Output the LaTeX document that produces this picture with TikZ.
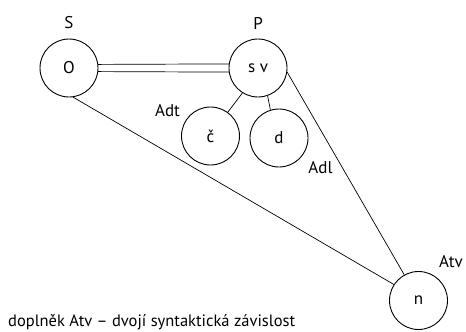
\documentclass[tikz,border=0pt]{standalone}
\usepackage{fontspec}
\setmainfont{PT Sans}
\begin{document}
\begin{tikzpicture}[x=1pt,y=-1pt,
  nd/.style={circle,draw,line width=0.9pt,minimum size=58pt,inner sep=0pt,font=\fontsize{17}{20}\selectfont},
  lbl/.style={inner sep=0pt,font=\fontsize{17}{20}\selectfont},
  ln/.style={line width=0.7pt}]
\useasboundingbox (0,0) rectangle (466,332);
\node[nd] (O) at (69,68) {O};
\node[nd] (sv) at (258,68) {s v};
\node[nd] (c) at (210.5,136) {č};
\node[nd] (d) at (279,138) {d};
\node[nd] (n) at (418.5,300.5) {n};
\node[lbl] (S) at (69,23) {S};
\node[lbl] (P) at (258,23) {P};
\node[lbl] (Adt) at (167.5,111) {Adt};
\node[lbl] (Adl) at (320.5,168) {Adl};
\node[lbl] (Atv) at (451,261.5) {Atv};
\node[lbl,anchor=base west,font=\fontsize{16.5}{20}\selectfont] (cap) at (8,326) {doplněk Atv – dvojí syntaktická závislost};
\draw[ln] (O.7.5) -- (sv.172.5);
\draw[ln] (O.-7.5) -- (sv.-172.5);
\draw[ln] (O.-82) -- (n.147);
\draw[ln] (sv.-8) -- (n.119);
\draw[ln] (sv.-122) -- (c.54);
\draw[ln] (sv.-71) -- (d.107);
\end{tikzpicture}
\end{document}
